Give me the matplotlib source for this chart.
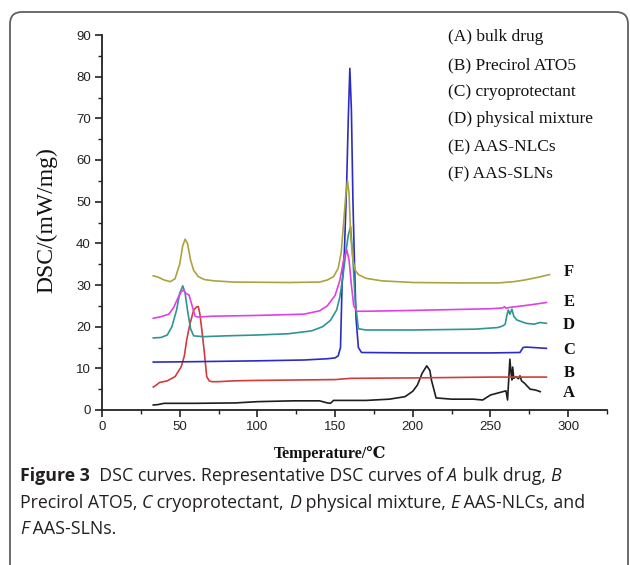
import matplotlib
matplotlib.use("Agg")
import matplotlib.pyplot as plt
from matplotlib.patches import FancyBboxPatch
from matplotlib.transforms import IdentityTransform
from matplotlib.ticker import MultipleLocator

# DSC curves (temperature in degC, DSC in mW/mg, offset per curve)
A_x = [33, 36, 40, 60, 86, 100, 123, 140, 145, 147, 149, 170, 185, 195, 200, 203, 206,
       209, 211, 212, 215, 225, 239, 245, 250, 258, 260, 261, 262.5, 263.2, 263.8,
       264.3, 265, 266.5, 268, 269, 270, 272, 275.5, 279, 282]
A_y = [1.2, 1.3, 1.6, 1.6, 1.7, 2.0, 2.2, 2.2, 1.7, 1.6, 2.3, 2.3, 2.6, 3.2, 4.5, 6.0,
       8.8, 10.6, 9.5, 7.2, 2.9, 2.6, 2.6, 2.4, 3.6, 4.4, 4.6, 2.4, 12.2, 9.0, 7.2,
       10.3, 7.6, 8.0, 7.5, 8.2, 7.0, 6.4, 5.0, 4.8, 4.4]

B_x = [33, 35, 37, 42, 47, 51, 53, 54.5, 56.5, 59, 61, 62, 63, 64, 65.7, 67.4, 69,
       70.6, 75, 85, 100, 150, 160, 200, 250, 286]
B_y = [5.5, 6.0, 6.6, 7.0, 8.0, 10.4, 13.0, 16.8, 20.5, 24.0, 24.8, 24.8, 23.0, 20.0,
       14.4, 8.0, 7.0, 6.8, 6.8, 7.0, 7.1, 7.3, 7.6, 7.7, 7.9, 7.9]

C_x = [33, 60, 100, 130, 145, 150, 152, 153.5, 154.5, 156, 157.5, 158.5, 159.5, 160.5,
       161.5, 162.5, 163.5, 165, 167, 200, 250, 269, 271, 273, 286]
C_y = [11.5, 11.6, 11.8, 12.0, 12.3, 12.5, 13.0, 15.0, 30.0, 38.0, 55.0, 70.0, 82.0,
       72.0, 50.0, 35.0, 22.0, 15.0, 13.8, 13.7, 13.7, 13.8, 15.0, 15.1, 14.8]

D_x = [33, 38, 42, 45, 48, 50, 52, 53.5, 55, 57, 59, 65, 80, 100, 120, 135, 142, 147,
       151, 153, 155, 157, 158.5, 160, 161.5, 163, 165, 170, 200, 240, 255, 258, 259.5,
       260.6, 261.5, 262.5, 263.8, 265, 267, 270, 273, 278, 282, 286]
D_y = [17.3, 17.4, 18.0, 20.0, 24.0, 28.0, 29.8, 28.0, 24.0, 19.5, 17.8, 17.6, 17.8,
       18.0, 18.3, 19.0, 20.0, 21.5, 24.0, 27.0, 32.0, 38.0, 42.0, 44.0, 36.0, 26.0,
       19.5, 19.2, 19.2, 19.4, 19.8, 20.2, 20.6, 22.8, 24.0, 23.0, 24.2, 22.5, 21.6,
       21.2, 20.8, 20.6, 21.0, 20.8]

E_x = [33, 38, 43, 46, 49, 51, 52.5, 54, 56, 58, 60, 62, 70, 100, 130, 140, 145, 150,
       153, 155.5, 157.5, 159, 160.5, 162, 164, 170, 200, 250, 258, 259, 260, 262, 275, 286]
E_y = [22.0, 22.4, 23.0, 24.5, 27.0, 28.4, 28.8, 28.0, 27.6, 25.0, 22.5, 22.3, 22.5,
       22.7, 23.0, 23.8, 25.0, 27.5, 31.0, 36.0, 38.5, 36.0, 30.0, 25.0, 23.7, 23.7,
       23.9, 24.3, 24.5, 24.8, 24.4, 24.6, 25.2, 25.8]

F_x = [33, 36, 40, 44, 47, 50, 52, 53.5, 55, 57, 59, 62, 66, 72, 85, 120, 140, 145, 149,
       152, 154, 155.5, 157, 158, 159, 160, 161.5, 163, 165, 170, 180, 200, 230, 255,
       265, 272, 280, 288]
F_y = [32.2, 31.9, 31.2, 30.8, 31.5, 35.0, 39.5, 41.0, 40.0, 36.0, 33.5, 32.0, 31.3,
       31.0, 30.7, 30.6, 30.7, 31.2, 32.0, 34.0, 38.0, 45.0, 52.0, 55.0, 52.0, 42.0,
       36.0, 33.5, 32.5, 31.6, 31.0, 30.6, 30.5, 30.5, 30.8, 31.2, 31.8, 32.5]

curves = [(A_x, A_y, "#1e1e1e"), (B_x, B_y, "#d23c3c"), (C_x, C_y, "#2c2cc4"),
          (D_x, D_y, "#2f9494"), (E_x, E_y, "#e040e6"), (F_x, F_y, "#aaa43c")]

letters = ["A", "B", "C", "D", "E", "F"]
letter_y = [393, 373, 350, 325, 302, 272]  # pixel rows of the end labels
legend_lines = ["(A) bulk drug", "(B) Precirol ATO5", "(C) cryoprotectant",
                "(D) physical mixture", "(E) AAS-NLCs", "(F) AAS-SLNs"]

W, H = 630, 565
fig = plt.figure(figsize=(W / 100, H / 100), dpi=100)
px = IdentityTransform()

# rounded frame round the figure
frame = FancyBboxPatch((10, -30), 618, H - 12 + 30, boxstyle="round,pad=0,rounding_size=12",
                       transform=px, fill=False, edgecolor="#606060", linewidth=1.3)
fig.add_artist(frame)

ax = fig.add_axes([102 / W, 1 - 410 / H, (607 - 102) / W, (410 - 35) / H])
for x, y, c in curves:
    ax.plot(x, y, color=c, lw=1.2)

ax.set_xlim(0, 325)
ax.set_ylim(0, 90)
ax.xaxis.set_major_locator(MultipleLocator(50))
ax.xaxis.set_minor_locator(MultipleLocator(25))
ax.yaxis.set_major_locator(MultipleLocator(10))
ax.yaxis.set_minor_locator(MultipleLocator(5))
ax.spines["top"].set_visible(False)
ax.spines["right"].set_visible(False)
for s in ["left", "bottom"]:
    ax.spines[s].set_linewidth(1.3)
    ax.spines[s].set_color("#222222")
ax.tick_params(which="major", direction="out", length=5, width=1.2, color="#222222",
               labelsize=9.5, pad=3)
ax.tick_params(which="minor", direction="out", length=3, width=1.0, color="#222222")
for lab in ax.get_xticklabels() + ax.get_yticklabels():
    lab.set_family("Liberation Sans")
    lab.set_color("#222222")

serif = ["Liberation Serif", "DejaVu Serif"]
fig.text(47, H - 220, "DSC/(mW/mg)", transform=px, rotation=90, ha="center", va="center",
         fontsize=17, family=serif, color="#111111")
fig.text(330, H - 458, "Temperature/℃", transform=px, ha="center", va="baseline",
         fontsize=11.5, fontweight="bold", family=serif, color="#111111")

for i, t in enumerate(legend_lines):
    fig.text(448, H - [37, 65, 92, 119, 147, 174][i], t, transform=px, ha="left",
             va="center", fontsize=12.5, family=serif, color="#111111")
for l, yy in zip(letters, letter_y):
    fig.text(569, H - yy, l, transform=px, ha="center", va="center", fontsize=12,
             fontweight="bold", family=serif, color="#111111")

# caption with mixed bold / italic runs
cap = [
    [("Figure 3", "bold", "normal"), ("  DSC curves. Representative DSC curves of ", "normal", "normal"),
     ("A", "normal", "italic"), (" bulk drug, ", "normal", "normal"), ("B", "normal", "italic")],
    [("Precirol ATO5, ", "normal", "normal"), ("C", "normal", "italic"),
     (" cryoprotectant, ", "normal", "normal"), ("D", "normal", "italic"),
     (" physical mixture, ", "normal", "normal"), ("E", "normal", "italic"),
     (" AAS-NLCs, and", "normal", "normal")],
    [("F", "normal", "italic"), (" AAS-SLNs.", "normal", "normal")],
]
cap_y = [481, 508, 534]
renderer = fig.canvas.get_renderer()
for runs, yy in zip(cap, cap_y):
    x = 20
    for s, w, st in runs:
        t = fig.text(x, H - yy, s, transform=px, ha="left", va="baseline", fontsize=12.8,
                     family=["Open Sans", "DejaVu Sans"], fontweight=w, fontstyle=st,
                     color="#231f20")
        x += t.get_window_extent(renderer).width

fig.savefig("out.png", dpi=100)
